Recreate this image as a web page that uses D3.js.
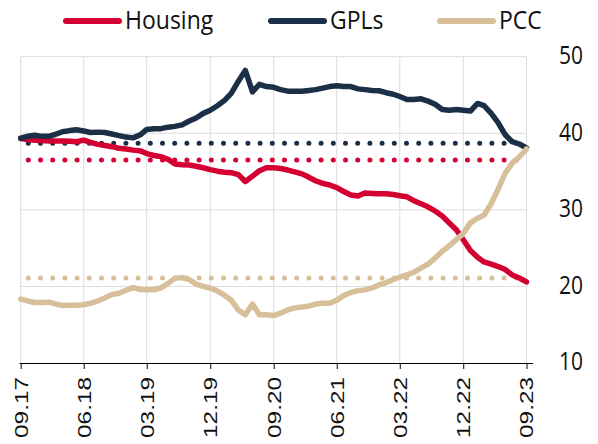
<!DOCTYPE html>
<html>
<head>
<meta charset="utf-8">
<script src="https://cdn.jsdelivr.net/npm/d3@7"></script>
<style>
  body { margin: 0; background: #fff; }
  svg { display: block; }
</style>
</head>
<body>
<svg id="chart" width="598" height="444"></svg>
<script>
const seriesNames = ["Housing", "GPLs", "PCC"];
const seriesColors = ["#d50032", "#1b3047", "#d6bf99"];
const tickLabels = ["09.17", "06.18", "03.19", "12.19", "09.20", "06.21", "03.22", "12.22", "09.23"];
const yTicks = [10, 20, 30, 40, 50];

// monthly, 09.17 .. 09.23
const housing = [
  39.3, 39.2, 39.1, 39.05, 39.0, 39.0, 39.0, 38.95, 38.9, 39.1,
  38.8, 38.55, 38.4, 38.25, 38.05, 37.95, 37.8, 37.7, 37.35, 37.1,
  36.95, 36.6, 36.0, 35.9, 35.85, 35.7, 35.5, 35.25, 35.05, 34.9,
  34.85, 34.6, 33.7, 34.4, 35.1, 35.5, 35.5, 35.4, 35.2, 34.95,
  34.7, 34.25, 33.8, 33.45, 33.25, 32.9, 32.4, 31.95, 31.8, 32.2,
  32.15, 32.1, 32.1, 32.0, 31.85, 31.7, 31.2, 30.8, 30.4, 29.85,
  29.2, 28.3, 27.4, 26.1, 24.7, 23.8, 23.2, 22.9, 22.6, 22.2,
  21.5, 21.1, 20.6
];
const gpls = [
  39.35, 39.6, 39.75, 39.6, 39.6, 39.9, 40.2, 40.35, 40.45, 40.3,
  40.1, 40.15, 40.1, 39.9, 39.7, 39.5, 39.4, 39.8, 40.5, 40.6,
  40.6, 40.8, 40.9, 41.1, 41.6, 42.0, 42.6, 43.0, 43.6, 44.3,
  45.2, 46.8, 48.2, 45.4, 46.4, 46.1, 46.0, 45.7, 45.5, 45.5,
  45.5, 45.6, 45.7, 45.9, 46.1, 46.2, 46.1, 46.1, 45.8, 45.7,
  45.6, 45.55, 45.3, 45.1, 44.8, 44.4, 44.4, 44.5, 44.2, 43.8,
  43.1, 43.0, 43.1, 43.0, 42.9, 43.9, 43.6, 42.6, 41.4, 39.8,
  38.9, 38.6, 38.1
];
const pcc = [
  18.35, 18.1, 17.9, 17.9, 17.95, 17.7, 17.5, 17.55, 17.55, 17.6,
  17.8, 18.1, 18.5, 18.95, 19.1, 19.5, 19.85, 19.6, 19.55, 19.55,
  19.8, 20.4, 21.05, 21.15, 20.9, 20.3, 20.0, 19.8, 19.4, 18.85,
  18.2, 16.9, 16.3, 17.7, 16.3, 16.3, 16.2, 16.5, 16.95, 17.2,
  17.3, 17.45, 17.7, 17.8, 17.8, 18.2, 18.8, 19.2, 19.45, 19.55,
  19.8, 20.2, 20.5, 20.9, 21.2, 21.5, 21.85, 22.4, 22.9, 23.7,
  24.6, 25.3, 26.1, 26.9, 28.3, 28.9, 29.3, 30.8, 32.7, 34.8,
  36.1, 36.9, 37.95
];
// long-run averages (dotted)
const averages = [36.5, 38.7, 21.1];

const parseMonth = d3.timeParse("%m.%y");
const months = d3.timeMonth.range(parseMonth(tickLabels[0]),
  d3.timeMonth.offset(parseMonth(tickLabels[tickLabels.length - 1]), 1));
const series = [housing, gpls, pcc];

const svg = d3.select("#chart");
const x = d3.scaleTime().domain(d3.extent(months)).range([20.7, 526.5]);
const y = d3.scaleLinear().domain([10, 50]).range([363, 56.7]);
const tickDates = tickLabels.map(parseMonth);

// grid
const grid = svg.append("g").attr("stroke", "#dcdcdc").attr("stroke-width", 1);
grid.selectAll(".vg").data(tickDates).enter().append("line")
  .attr("x1", d => x(d)).attr("x2", d => x(d))
  .attr("y1", y(50)).attr("y2", y(10));
grid.selectAll(".hg").data(yTicks.filter(d => d > 10)).enter().append("line")
  .attr("x1", x.range()[0]).attr("x2", x.range()[1])
  .attr("y1", d => y(d)).attr("y2", d => y(d));

// bottom axis
const xAxis = d3.axisBottom(x).tickValues(tickDates).tickSize(6).tickFormat(d3.timeFormat("%m.%y"));
const gx = svg.append("g").attr("transform", `translate(0,${y(10)})`).call(xAxis);
gx.select(".domain").attr("d", `M19.5,0.5H533`).attr("stroke", "#000");
gx.selectAll(".tick line").attr("stroke", "#000");
gx.selectAll(".tick text")
  .attr("font-family", "Liberation Sans, Arial, sans-serif")
  .attr("font-size", 18).attr("fill", "#111")
  .attr("text-anchor", "end")
  .attr("textLength", 61).attr("lengthAdjust", "spacingAndGlyphs")
  .attr("transform", "translate(0,14) rotate(-90)")
  .attr("x", 0).attr("y", 0).attr("dy", "0.36em");

// right labels
svg.append("g").selectAll("text").data(yTicks).enter().append("text")
  .attr("transform", d => `translate(559,${y(d)}) scale(1,1.22)`)
  .attr("y", 6)
  .attr("font-family", "Open Sans, sans-serif").attr("font-size", 21).attr("fill", "#111")
  .text(d => d);

// average dotted lines
svg.append("g").selectAll("line").data(averages).enter().append("line")
  .attr("x1", x.range()[0]).attr("x2", x.range()[1])
  .attr("y1", d => y(d)).attr("y2", d => y(d))
  .attr("stroke", (d, i) => seriesColors[i])
  .attr("stroke-width", 5).attr("stroke-linecap", "round")
  .attr("stroke-dasharray", "0 12.2").attr("stroke-dashoffset", 4.6);

// series lines
const line = d3.line().x((d, i) => x(months[i])).y(d => y(d));
svg.append("g").selectAll("path").data(series).enter().append("path")
  .attr("d", line).attr("fill", "none")
  .attr("stroke", (d, i) => seriesColors[i])
  .attr("stroke-width", 5.5).attr("stroke-linejoin", "round").attr("stroke-linecap", "round");

// legend
const legendX = [66, 271, 440];
const lg = svg.append("g").selectAll("g").data(seriesNames).enter().append("g")
  .attr("transform", (d, i) => `translate(${legendX[i]},21)`);
lg.append("line").attr("x1", 0).attr("x2", 53).attr("y1", 0).attr("y2", 0)
  .attr("stroke", (d, i) => seriesColors[i]).attr("stroke-width", 6).attr("stroke-linecap", "round");
lg.append("text")
  .attr("transform", "translate(59,8) scale(1,1.12)")
  .attr("font-family", "Open Sans, sans-serif").attr("font-size", 23).attr("fill", "#111")
  .text(d => d);
</script>
</body>
</html>
